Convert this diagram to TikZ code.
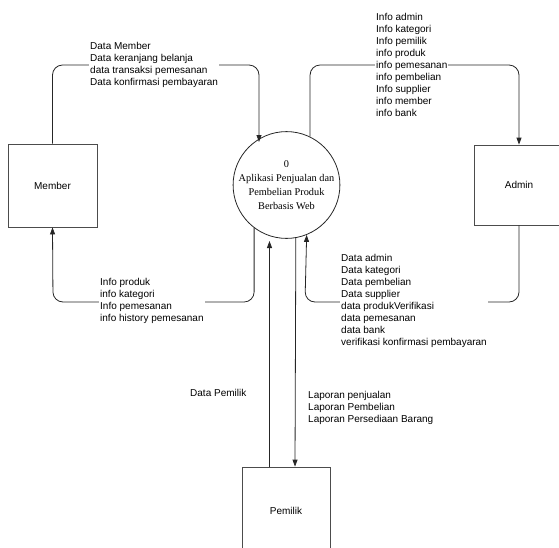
\documentclass[tikz,border=0pt]{standalone}
\usepackage{fontspec}
\setmainfont{Liberation Sans}
\newfontfamily\procfont{Liberation Serif}
\usetikzlibrary{arrows.meta}
\begin{document}
\begin{tikzpicture}[x=1pt,y=-1pt,
  flow/.style={draw=black!85, line width=0.8pt, rounded corners=10pt},
  tip/.style={-{Triangle[length=7pt,width=5pt]}},
  entity/.style={draw=black!70, line width=0.8pt, minimum width=89pt, minimum height=83pt, inner sep=1pt, font=\fontsize{10}{12}\selectfont},
  lbl/.style={fill=white, inner sep=1pt, align=left, anchor=west, font=\fontsize{10}{12}\selectfont}]
\useasboundingbox (0,0) rectangle (559,547);
\clip (0,0) rectangle (559,547);
% entities and process
\node[entity] (member) at (52.5,185.5) {Member};
\node[entity, minimum width=90pt, minimum height=80pt] (admin) at (519,185) {Admin};
\node[entity, minimum width=88pt, minimum height=88pt] (pemilik) at (286,511) {Pemilik};
\node[draw=black!85, line width=0.8pt, circle, minimum size=99pt, inner sep=0pt, align=center,
      font=\procfont\fontsize{10.3}{13.8}\selectfont] (proc) at (286.5,185)
      {0\\Aplikasi Penjualan dan\\Pembelian Produk\\Berbasis Web};
% free ends
\coordinate (in1) at (259,142);
\coordinate (in5) at (269.5,241);
% connectors
\draw[flow,tip] (member.north) |- (259,65) -- (in1);
\draw[flow,tip] (proc.64) |- (519,65) -- (admin.north);
\draw[flow,tip] (admin.south) |- (305,302) -- (proc.-68);
\draw[flow,tip] (proc.-127) |- (53,302) -- (member.south);
\draw[flow,tip] ([xshift=-16.5pt]pemilik.north) -- (in5);
\draw[flow,tip] (proc.-80) -- ([xshift=9pt]pemilik.north);
% labels
\node[lbl] (l1) at (89,65) {Data Member\\Data keranjang belanja\\data transaksi pemesanan\\Data konfirmasi pembayaran};
\node[lbl] (l2) at (375,64.5) {Info admin\\Info kategori\\Info pemilik\\info produk\\info pemesanan\\info pembelian\\Info supplier\\info member\\info bank};
\node[lbl] (l3) at (99,301) {Info produk\\info kategori\\Info pemesanan\\info history pemesanan};
\node[lbl] (l4) at (340,300.5) {Data admin\\Data kategori\\Data pembelian\\Data supplier\\data produkVerifikasi\\data pemesanan\\data bank\\verifikasi konfirmasi pembayaran};
\node[lbl, fill=none] (l5) at (189,393) {Data Pemilik};
\node[lbl, fill=none] (l6) at (307,407.5) {Laporan penjualan\\Laporan Pembelian\\Laporan Persediaan Barang};
\end{tikzpicture}
\end{document}
